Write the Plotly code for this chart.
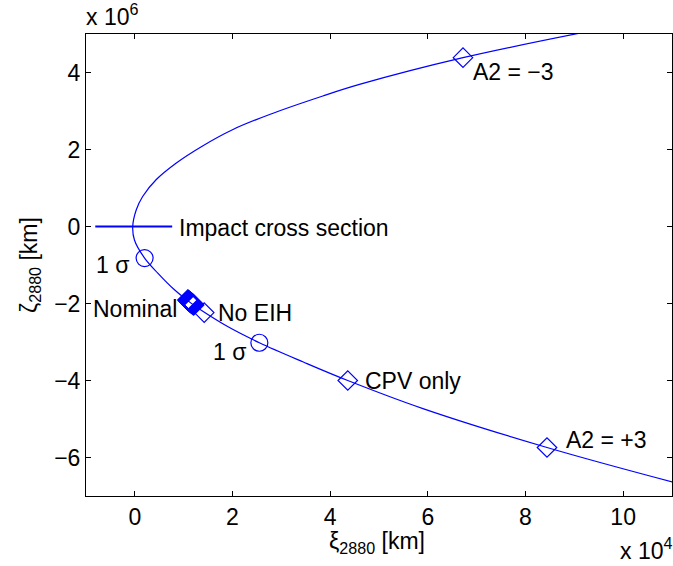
import plotly.graph_objects as go

# ---- data (km) ----
# curve of the impact solutions in the b-plane (xi in 1e4 km, zeta in 1e6 km)
curve_xi_e4 = [9.1, 6.72, 4.60, 3.85, 2.76, 2.01, 1.37, 0.85, 0.44, 0.16, 0.03, -0.043,
               -0.008, 0.20, 0.47, 0.80, 1.15, 1.40, 1.90, 2.55, 3.45, 4.36, 5.90, 8.44, 11.05]
curve_zeta_e6 = [5.02, 4.385, 3.69, 3.39, 2.91, 2.52, 2.08, 1.65, 1.22, 0.78, 0.435, 0.0,
                 -0.35, -0.82, -1.21, -1.63, -1.99, -2.21, -2.60, -3.02, -3.52, -4.00, -4.73, -5.74, -6.65]

# impact cross section (horizontal segment at zeta = 0)
impact_xi_e4 = [-0.81, 0.765]
impact_zeta_e6 = [0.0, 0.0]

# 1-sigma points
sigma_xi_e4 = [0.20, 2.55]
sigma_zeta_e6 = [-0.82, -3.02]
sigma_labels = ["1 σ", "1 σ"]

# nominal solutions (cluster)
nominal_xi_e4 = [1.085, 1.10, 1.115, 1.13, 1.145, 1.16, 1.175, 1.19, 1.205]
nominal_zeta_e6 = [-1.91, -1.925, -1.94, -1.96, -1.975, -1.99, -2.005, -2.02, -2.04]

# labelled single solutions
case_labels = ["A2 = −3", "No EIH", "CPV only", "A2 = +3"]
case_xi_e4 = [6.72, 1.42, 4.36, 8.44]
case_zeta_e6 = [4.385, -2.235, -4.00, -5.74]

x_ticks_e4 = [0, 2, 4, 6, 8, 10]
y_ticks_e6 = [-6, -4, -2, 0, 2, 4]

XS, YS = 1e4, 1e6
def sx(v): return [a * XS for a in v]
def sy(v): return [a * YS for a in v]
def lab(v): return [str(t).replace("-", "−") for t in v]

BLUE = "#0000ff"
FONT = "Liberation Sans, Arial, sans-serif"
FS = 23

fig = go.Figure()
fig.add_trace(go.Scatter(x=sx(curve_xi_e4), y=sy(curve_zeta_e6), mode="lines",
                         line=dict(color=BLUE, width=1.2, shape="spline", smoothing=1.0),
                         showlegend=False, hoverinfo="skip"))
fig.add_trace(go.Scatter(x=sx(impact_xi_e4), y=sy(impact_zeta_e6), mode="lines",
                         line=dict(color=BLUE, width=2), showlegend=False))
fig.add_trace(go.Scatter(x=sx(sigma_xi_e4), y=sy(sigma_zeta_e6), mode="markers",
                         marker=dict(symbol="circle-open", size=17, color=BLUE, line=dict(width=1.2)),
                         showlegend=False))
fig.add_trace(go.Scatter(x=sx(nominal_xi_e4), y=sy(nominal_zeta_e6), mode="markers",
                         marker=dict(symbol="diamond-open", size=15, color=BLUE, line=dict(width=1.8)),
                         showlegend=False))
fig.add_trace(go.Scatter(x=sx(case_xi_e4), y=sy(case_zeta_e6), mode="markers",
                         marker=dict(symbol="diamond-open", size=15, color=BLUE, line=dict(width=1.2)),
                         showlegend=False))

tf = dict(family=FONT, size=FS, color="black")
ann = []
# label placements (pixel offsets from the marked point)
case_place = {"A2 = −3": ("left", 8, -14), "No EIH": ("left", 12, 0),
              "CPV only": ("left", 15, 0), "A2 = +3": ("left", 17, 7)}
for t, x, y in zip(case_labels, case_xi_e4, case_zeta_e6):
    xa, dx, dy = case_place[t]
    ann.append(dict(x=x * XS, y=y * YS, text=t, showarrow=False, xanchor=xa, yanchor="middle",
                    xshift=dx, yshift=dy, font=tf))
sig_place = [(-14, -7), (-11, -9)]
for t, x, y, (dx, dy) in zip(sigma_labels, sigma_xi_e4, sigma_zeta_e6, sig_place):
    ann.append(dict(x=x * XS, y=y * YS, text=t, showarrow=False, xanchor="right", yanchor="middle",
                    xshift=dx, yshift=dy, font=tf))
ann.append(dict(x=nominal_xi_e4[4] * XS, y=nominal_zeta_e6[4] * YS, text="Nominal", showarrow=False,
                xanchor="right", yanchor="middle", xshift=-12, yshift=-6, font=tf))
ann.append(dict(x=impact_xi_e4[1] * XS, y=0, text="Impact cross section", showarrow=False,
                xanchor="left", yanchor="middle", xshift=5, yshift=-1, font=tf))
ann.append(dict(xref="paper", yref="paper", x=0, y=1, text="x 10<sup>6</sup>", showarrow=False,
                xanchor="left", yanchor="bottom", xshift=-2, yshift=2, font=tf))
ann.append(dict(xref="paper", yref="paper", x=1, y=0, text="x 10<sup>4</sup>", showarrow=False,
                xanchor="right", yanchor="top", xshift=2, yshift=-36, font=tf))
# x-axis title (placed close to the tick labels as in the reference)
ann.append(dict(xref="paper", yref="paper", x=0.5, y=0, text="ξ<sub>2880</sub> [km]", showarrow=False,
                xanchor="center", yanchor="middle", xshift=-2, yshift=-46, font=tf))

axis_common = dict(showgrid=False, zeroline=False, showline=True, linecolor="black", linewidth=1,
                   mirror="ticks", ticks="inside", ticklen=5, tickcolor="black", tickwidth=1,
                   tickfont=tf)
fig.update_layout(
    width=673, height=566, margin=dict(l=86, r=1, t=34, b=70),
    paper_bgcolor="white", plot_bgcolor="white",
    font=tf, annotations=ann,
    xaxis=dict(range=[-1 * XS, 11 * XS], tickvals=sx(x_ticks_e4), ticktext=lab(x_ticks_e4),
               **axis_common),
    yaxis=dict(range=[-7 * YS, 5 * YS], tickvals=sy(y_ticks_e6), ticktext=lab(y_ticks_e6),
               title=dict(text="ζ<sub>2880</sub> [km]", font=tf, standoff=10), **axis_common),
)
fig.write_html("out.html")
